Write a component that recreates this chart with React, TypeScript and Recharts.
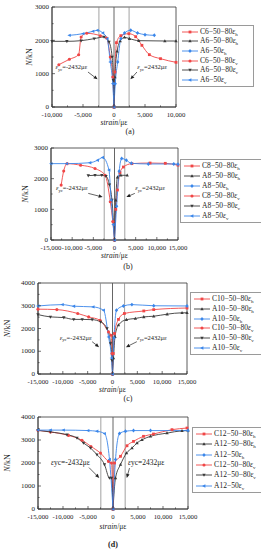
import React from 'react';
import { LineChart, Line, XAxis, YAxis, ReferenceLine, ReferenceArea } from 'recharts';

const FONT = '"Liberation Serif", "Times New Roman", serif';
const RED = '#f04646';
const BLACK = '#3a3a3a';
const BLUE = '#3a86ea';
const AXIS = '#333';

type Pt = { x: number; y: number };

// ---- panel (a) ----
const aC6h: Pt[] = [{ x: 0, y: 0 }, { x: 150, y: 1050 }, { x: 400, y: 1930 }, { x: 1100, y: 2140 }, { x: 2400, y: 2200 }, { x: 3500, y: 2110 }, { x: 4500, y: 1850 }, { x: 5700, y: 1570 }, { x: 7500, y: 1450 }, { x: 10000, y: 1340 }];
const aA6h80: Pt[] = [{ x: 0, y: 0 }, { x: 150, y: 900 }, { x: 500, y: 1670 }, { x: 1000, y: 1980 }, { x: 1700, y: 2090 }, { x: 2500, y: 2050 }, { x: 4000, y: 1990 }, { x: 8200, y: 1980 }, { x: 10000, y: 1980 }];
const aA6h50: Pt[] = [{ x: 0, y: 0 }, { x: 200, y: 700 }, { x: 600, y: 1350 }, { x: 1100, y: 2050 }, { x: 1700, y: 2220 }, { x: 2700, y: 2300 }, { x: 3800, y: 2220 }, { x: 5000, y: 2170 }, { x: 6500, y: 2150 }];
const aC6v: Pt[] = [{ x: -8900, y: 1270 }, { x: -7200, y: 1430 }, { x: -5700, y: 1570 }, { x: -5300, y: 2100 }, { x: -4400, y: 2210 }, { x: -2200, y: 2140 }, { x: -1200, y: 2070 }, { x: -600, y: 1500 }, { x: -200, y: 900 }, { x: 0, y: 0 }];
const aA6v80: Pt[] = [{ x: -10000, y: 1970 }, { x: -7600, y: 1970 }, { x: -5300, y: 1990 }, { x: -3200, y: 2050 }, { x: -1600, y: 2100 }, { x: -800, y: 1950 }, { x: -300, y: 1500 }, { x: -100, y: 800 }, { x: 0, y: 0 }];
const aA6v50: Pt[] = [{ x: -7200, y: 2150 }, { x: -5000, y: 2200 }, { x: -3400, y: 2270 }, { x: -2700, y: 2300 }, { x: -1800, y: 2220 }, { x: -1100, y: 2050 }, { x: -600, y: 1350 }, { x: -200, y: 700 }, { x: 0, y: 0 }];

// ---- panel (b) ----
const bC8h: Pt[] = [{ x: 0, y: 0 }, { x: 300, y: 1000 }, { x: 700, y: 1630 }, { x: 1300, y: 2200 }, { x: 2100, y: 2380 }, { x: 4100, y: 2490 }, { x: 8400, y: 2510 }, { x: 12000, y: 2500 }, { x: 15000, y: 2440 }];
const bA8h80: Pt[] = [{ x: 0, y: 0 }, { x: 300, y: 1300 }, { x: 700, y: 2050 }, { x: 1500, y: 2110 }, { x: 3000, y: 2110 }];
const bA8h50: Pt[] = [{ x: 0, y: 0 }, { x: 500, y: 1100 }, { x: 1100, y: 2240 }, { x: 1700, y: 2660 }, { x: 2800, y: 2600 }, { x: 4000, y: 2500 }, { x: 8000, y: 2480 }, { x: 14000, y: 2480 }, { x: 15000, y: 2470 }];
const bC8v: Pt[] = [{ x: -12600, y: 1790 }, { x: -12000, y: 2250 }, { x: -11200, y: 2490 }, { x: -8000, y: 2440 }, { x: -4600, y: 2330 }, { x: -2200, y: 2110 }, { x: -1000, y: 1250 }, { x: -400, y: 600 }, { x: 0, y: 0 }];
const bA8v80: Pt[] = [{ x: -6200, y: 2100 }, { x: -4600, y: 2110 }, { x: -3000, y: 2110 }, { x: -2000, y: 2080 }, { x: -1200, y: 1800 }, { x: -600, y: 1300 }, { x: 0, y: 0 }];
const bA8v50: Pt[] = [{ x: -15000, y: 2490 }, { x: -11300, y: 2490 }, { x: -5800, y: 2520 }, { x: -4000, y: 2600 }, { x: -2800, y: 2690 }, { x: -1300, y: 2280 }, { x: -800, y: 1300 }, { x: -300, y: 500 }, { x: 0, y: 0 }];

// ---- panel (c) ----
const cC10h: Pt[] = [{ x: 0, y: 0 }, { x: 150, y: 900 }, { x: 400, y: 1780 }, { x: 1200, y: 2400 }, { x: 2400, y: 2660 }, { x: 6300, y: 2770 }, { x: 8300, y: 2830 }, { x: 15000, y: 2900 }];
const cA10h80: Pt[] = [{ x: 0, y: 0 }, { x: 200, y: 700 }, { x: 500, y: 1640 }, { x: 1200, y: 2150 }, { x: 2800, y: 2390 }, { x: 4600, y: 2440 }, { x: 6300, y: 2510 }, { x: 8300, y: 2540 }, { x: 11000, y: 2630 }, { x: 14000, y: 2690 }, { x: 15000, y: 2690 }];
const cA10h50: Pt[] = [{ x: 0, y: 0 }, { x: 300, y: 1580 }, { x: 800, y: 2800 }, { x: 2200, y: 2990 }, { x: 3900, y: 3050 }, { x: 8300, y: 3000 }, { x: 15000, y: 2990 }];
const cC10v: Pt[] = [{ x: -15000, y: 2850 }, { x: -11200, y: 2830 }, { x: -7000, y: 2660 }, { x: -4800, y: 2510 }, { x: -2500, y: 2360 }, { x: -800, y: 1850 }, { x: -300, y: 1700 }, { x: -100, y: 900 }, { x: 0, y: 0 }];
const cA10v80: Pt[] = [{ x: -15000, y: 2610 }, { x: -12500, y: 2510 }, { x: -9800, y: 2480 }, { x: -7800, y: 2400 }, { x: -6100, y: 2400 }, { x: -4100, y: 2390 }, { x: -2400, y: 2290 }, { x: -1100, y: 2000 }, { x: -400, y: 1340 }, { x: -100, y: 600 }, { x: 0, y: 0 }];
const cA10v50: Pt[] = [{ x: -15000, y: 2990 }, { x: -10100, y: 3050 }, { x: -7800, y: 2980 }, { x: -3900, y: 2950 }, { x: -1800, y: 2800 }, { x: -800, y: 1630 }, { x: -200, y: 700 }, { x: 0, y: 0 }];

// ---- panel (d) ----
const dC12h: Pt[] = [{ x: 0, y: 0 }, { x: 300, y: 2000 }, { x: 1500, y: 2290 }, { x: 2800, y: 2750 }, { x: 4100, y: 2940 }, { x: 6100, y: 3160 }, { x: 8100, y: 3260 }, { x: 11800, y: 3450 }, { x: 14800, y: 3520 }];
const dA12h80: Pt[] = [{ x: 0, y: 0 }, { x: 500, y: 1350 }, { x: 1500, y: 1930 }, { x: 2700, y: 2430 }, { x: 3800, y: 2650 }, { x: 4800, y: 2870 }, { x: 5800, y: 3010 }, { x: 7500, y: 3160 }, { x: 10800, y: 3300 }, { x: 13800, y: 3400 }, { x: 15000, y: 3410 }];
const dA12h50: Pt[] = [{ x: 0, y: 0 }, { x: 500, y: 2150 }, { x: 1300, y: 3280 }, { x: 2500, y: 3380 }, { x: 4100, y: 3410 }, { x: 7500, y: 3410 }, { x: 15000, y: 3410 }];
const dC12v: Pt[] = [{ x: -15000, y: 3420 }, { x: -12500, y: 3350 }, { x: -8900, y: 3200 }, { x: -6200, y: 2990 }, { x: -4400, y: 2720 }, { x: -2500, y: 2430 }, { x: -900, y: 2070 }, { x: -300, y: 2000 }, { x: 0, y: 0 }];
const dA12v80: Pt[] = [{ x: -15000, y: 3420 }, { x: -12500, y: 3350 }, { x: -9200, y: 3230 }, { x: -7200, y: 3090 }, { x: -5900, y: 2870 }, { x: -4500, y: 2650 }, { x: -3200, y: 2360 }, { x: -1700, y: 1930 }, { x: -700, y: 1350 }, { x: -300, y: 1350 }, { x: 0, y: 0 }];
const dA12v50: Pt[] = [{ x: -15000, y: 3430 }, { x: -12500, y: 3430 }, { x: -9900, y: 3430 }, { x: -5000, y: 3410 }, { x: -3200, y: 3380 }, { x: -1700, y: 3280 }, { x: -700, y: 2150 }, { x: 0, y: 0 }];

// axis ticks
const ticks10k = [-10000, -7500, -5000, -2500, 0, 2500, 5000, 7500, 10000];
const ticks15k = [-15000, -12500, -10000, -7500, -5000, -2500, 0, 2500, 5000, 7500, 10000, 12500, 15000];
const ticks3k = [0, 500, 1000, 1500, 2000, 2500, 3000];
const ticks4k = [0, 500, 1000, 1500, 2000, 2500, 3000, 3500, 4000];
const yieldStrain = 2432;

type Shape = 'square' | 'up' | 'diamond' | 'circle' | 'down' | 'left';
type Series = { name: string; sub: string; color: string; shape: Shape; data: Pt[] };

const mk = (spec: string, data: Pt[][]): Series[] => {
  const names = [`C${spec}−50−80`, `A${spec}−50−80`, `A${spec}−50`];
  const colors = [RED, BLACK, BLUE];
  const shapesH: Shape[] = ['square', 'up', 'diamond'];
  const shapesV: Shape[] = ['circle', 'down', 'left'];
  return [
    ...names.map((n, i) => ({ name: n, sub: 'h', color: colors[i], shape: shapesH[i], data: data[i] })),
    ...names.map((n, i) => ({ name: n, sub: 'v', color: colors[i], shape: shapesV[i], data: data[i + 3] })),
  ];
};

function Marker({ shape, cx, cy, color, r = 1.4 }: { shape: Shape; cx: number; cy: number; color: string; r?: number }) {
  switch (shape) {
    case 'square':
      return <rect x={cx - r} y={cy - r} width={2 * r} height={2 * r} fill={color} />;
    case 'circle':
      return <circle cx={cx} cy={cy} r={r * 1.1} fill={color} />;
    case 'up':
      return <polygon points={`${cx},${cy - r * 1.3} ${cx - r * 1.2},${cy + r * 0.9} ${cx + r * 1.2},${cy + r * 0.9}`} fill={color} />;
    case 'down':
      return <polygon points={`${cx},${cy + r * 1.3} ${cx - r * 1.2},${cy - r * 0.9} ${cx + r * 1.2},${cy - r * 0.9}`} fill={color} />;
    case 'diamond':
      return <polygon points={`${cx},${cy - r * 1.4} ${cx + r * 1.2},${cy} ${cx},${cy + r * 1.4} ${cx - r * 1.2},${cy}`} fill={color} />;
    default:
      return <polygon points={`${cx - r * 1.4},${cy} ${cx + r},${cy - r * 1.2} ${cx + r},${cy + r * 1.2}`} fill={color} />;
  }
}

type Note = { text: string; anchor: 'start' | 'end'; tx: number; ty: number; from: Pt; to: Pt };

type Panel = {
  top: number;
  height: number;
  plot: { l: number; r: number; t: number; b: number };
  xMax: number;
  xTicks: number[];
  yMax: number;
  yTicks: number[];
  series: Series[];
  legend: { l: number; t: number; w: number; h: number };
  caption: string;
  capX: number;
  capY: number;
  capBold?: boolean;
  yLabelX: number;
  xLabelY: number;
  subNote: boolean;
  notes: Note[];
};

const panels: Panel[] = [
  {
    top: 0, height: 135, plot: { l: 52, r: 176, t: 7, b: 107 },
    xMax: 10000, xTicks: ticks10k, yMax: 3000, yTicks: ticks3k,
    series: mk('6', [aC6h, aA6h80, aA6h50, aC6v, aA6v80, aA6v50]),
    legend: { l: 178, t: 25, w: 76, h: 62 },
    caption: '(a)', capX: 130, capY: 132.5, yLabelX: 32, xLabelY: 125, subNote: true,
    notes: [
      { text: '-2432', anchor: 'end', tx: -4300, ty: 1130, from: { x: -4200, y: 1050 }, to: { x: -2650, y: 830 } },
      { text: '2432', anchor: 'start', tx: 3750, ty: 1130, from: { x: 3700, y: 1050 }, to: { x: 2650, y: 830 } },
    ],
  },
  {
    top: 135, height: 135, plot: { l: 51, r: 178, t: 13, b: 105 },
    xMax: 15000, xTicks: ticks15k, yMax: 3000, yTicks: ticks3k,
    series: mk('8', [bC8h, bA8h80, bA8h50, bC8v, bA8v80, bA8v50]),
    legend: { l: 180, t: 24, w: 82, h: 64 },
    caption: '(b)', capX: 128, capY: 132.5, yLabelX: 28, xLabelY: 123, subNote: true,
    notes: [
      { text: '-2432', anchor: 'end', tx: -6300, ty: 1620, from: { x: -6200, y: 1520 }, to: { x: -2800, y: 1400 } },
      { text: '2432', anchor: 'start', tx: 4900, ty: 1620, from: { x: 4800, y: 1520 }, to: { x: 2800, y: 1400 } },
    ],
  },
  {
    top: 270, height: 140, plot: { l: 38, r: 187, t: 13, b: 104 },
    xMax: 15000, xTicks: ticks15k, yMax: 4000, yTicks: ticks4k,
    series: mk('10', [cC10h, cA10h80, cA10h50, cC10v, cA10v80, cA10v50]),
    legend: { l: 190, t: 22, w: 72, h: 63 },
    caption: '(c)', capX: 128, capY: 129.5, yLabelX: 10, xLabelY: 122, subNote: true,
    notes: [
      { text: '-2432', anchor: 'end', tx: -4200, ty: 1500, from: { x: -4100, y: 1420 }, to: { x: -2700, y: 1180 } },
      { text: '2432', anchor: 'start', tx: 4950, ty: 1500, from: { x: 4900, y: 1420 }, to: { x: 2700, y: 1180 } },
    ],
  },
  {
    top: 410, height: 140, plot: { l: 38, r: 188, t: 7, b: 99 },
    xMax: 15000, xTicks: ticks15k, yMax: 4000, yTicks: ticks4k,
    series: mk('12', [dC12h, dA12h80, dA12h50, dC12v, dA12v80, dA12v50]),
    legend: { l: 192, t: 17, w: 70, h: 66 },
    caption: '(d)', capX: 113, capY: 136, capBold: true, yLabelX: 10, xLabelY: 118.5, subNote: false,
    notes: [
      { text: '-2432', anchor: 'end', tx: -4600, ty: 1900, from: { x: -4800, y: 1800 }, to: { x: -2750, y: 1350 } },
      { text: '2432', anchor: 'start', tx: 3000, ty: 1900, from: { x: 3300, y: 1780 }, to: { x: 2750, y: 1350 } },
    ],
  },
];

const XTick = (props: any) => {
  const { x, y, payload } = props;
  const v = payload.value as number;
  const major = v % 5000 === 0;
  return (
    <g>
      <line x1={x} x2={x} y1={y} y2={y - (major ? 3 : 1.6)} stroke={AXIS} strokeWidth={0.7} />
      {major && (
        <text x={x} y={y + 9.5} textAnchor="middle" fontSize={6.8} fontFamily={FONT} fill="#222">
          {v.toLocaleString('en-US')}
        </text>
      )}
    </g>
  );
};

const YTick = (props: any) => {
  const { x, y, payload } = props;
  const v = payload.value as number;
  const major = v % 1000 === 0;
  return (
    <g>
      <line x1={x} x2={x + (major ? 3 : 1.6)} y1={y} y2={y} stroke={AXIS} strokeWidth={0.7} />
      {major && (
        <text x={x - 3} y={y + 2.2} textAnchor="end" fontSize={7} fontFamily={FONT} fill="#222">
          {v}
        </text>
      )}
    </g>
  );
};

function arrowShape() {
  return (props: any) => {
    const { x1, y1, x2, y2 } = props;
    const ang = Math.atan2(y2 - y1, x2 - x1);
    const L = 4, W = 1.8;
    const bx = x2 - L * Math.cos(ang), by = y2 - L * Math.sin(ang);
    const px = -Math.sin(ang) * W, py = Math.cos(ang) * W;
    return (
      <g>
        <line x1={x1} y1={y1} x2={bx} y2={by} stroke="#222" strokeWidth={0.7} />
        <polygon points={`${x2},${y2} ${bx + px},${by + py} ${bx - px},${by - py}`} fill="#222" />
      </g>
    );
  };
}

function PanelChart({ p }: { p: Panel }) {
  const pw = p.plot.r - p.plot.l;
  const ph = p.plot.b - p.plot.t;
  const sx = (v: number) => p.plot.l + ((v + p.xMax) / (2 * p.xMax)) * pw;
  const sy = (v: number) => p.plot.b - (v / p.yMax) * ph;
  return (
    <div style={{ position: 'absolute', left: 0, top: p.top, width: 261, height: p.height }}>
      <LineChart
        width={261}
        height={p.height}
        margin={{ top: p.plot.t, right: 261 - p.plot.r, bottom: 0, left: 0 }}
      >
        <XAxis
          type="number"
          dataKey="x"
          domain={[-p.xMax, p.xMax]}
          ticks={p.xTicks}
          interval={0}
          tick={<XTick />}
          tickLine={false}
          tickSize={0}
          tickMargin={0}
          height={p.height - p.plot.b}
          stroke={AXIS}
          strokeWidth={0.8}
          label={() => (
            <text x={(p.plot.l + p.plot.r) / 2} y={p.xLabelY} textAnchor="middle" fontSize={7.5} fontFamily={FONT} fill="#222">
              <tspan fontStyle="italic">strain</tspan>/με
            </text>
          )}
        />
        <YAxis
          type="number"
          domain={[0, p.yMax]}
          ticks={p.yTicks}
          interval={0}
          tick={<YTick />}
          tickLine={false}
          tickSize={0}
          tickMargin={0}
          width={p.plot.l}
          stroke={AXIS}
          strokeWidth={0.8}
          label={() => (
            <text
              transform={`translate(${p.yLabelX},${(p.plot.t + p.plot.b) / 2}) rotate(-90)`}
              textAnchor="middle"
              fontSize={8}
              fontFamily={FONT}
              fill="#222"
            >
              <tspan fontStyle="italic">N</tspan>/kN
            </text>
          )}
        />
        <ReferenceArea x1={-p.xMax} x2={p.xMax} y1={0} y2={p.yMax} fill="none" stroke={AXIS} strokeWidth={0.8} />
        <ReferenceLine x={-yieldStrain} stroke="#8a8a8a" strokeWidth={0.8} />
        <ReferenceLine x={yieldStrain} stroke="#8a8a8a" strokeWidth={0.8} />
        <ReferenceLine x={0} stroke="#555" strokeWidth={0.9} />
        {p.notes.map((n, i) => (
          <ReferenceLine key={`n${i}`} segment={[n.from, n.to]} shape={arrowShape()} />
        ))}
        {p.series.map((s, i) => (
          <Line
            key={i}
            data={s.data}
            dataKey="y"
            type="monotone"
            stroke={s.color}
            strokeWidth={0.9}
            isAnimationActive={false}
            dot={(d: any) => <Marker key={`${i}-${d.index}`} shape={s.shape} cx={d.cx} cy={d.cy} color={s.color} />}
            activeDot={false}
          />
        ))}
      </LineChart>
      <svg style={{ position: 'absolute', left: 0, top: 0, pointerEvents: 'none' }} width={261} height={p.height}>
        {p.notes.map((n, i) => (
          <text key={i} x={sx(n.tx)} y={sy(n.ty)} textAnchor={n.anchor} fontSize={p.subNote ? 6.5 : 7.5} fontFamily={FONT} fill="#222">
            <tspan fontStyle="italic">ε</tspan>
            {p.subNote ? (
              <>
                <tspan fontSize={4.5} dy={1.5}>yc</tspan>
                <tspan dy={-1.5}>={n.text}με</tspan>
              </>
            ) : (
              <tspan>yc={n.text}με</tspan>
            )}
          </text>
        ))}
      </svg>
      <div
        style={{
          position: 'absolute',
          left: p.legend.l,
          top: p.legend.t,
          width: p.legend.w,
          height: p.legend.h,
          border: '1px solid #9a9a9a',
          boxSizing: 'border-box',
          background: '#fff',
          padding: '1px 0 1px 2px',
          fontFamily: FONT,
          fontSize: 7.5,
          color: '#222',
        }}
      >
        {p.series.map((s, i) => (
          <div key={i} style={{ display: 'flex', alignItems: 'center', height: (p.legend.h - 4) / 6, whiteSpace: 'nowrap' }}>
            <svg width={18} height={8} style={{ flex: 'none' }}>
              <line x1={1} x2={17} y1={4} y2={4} stroke={s.color} strokeWidth={0.9} />
              <Marker shape={s.shape} cx={9} cy={4} color={s.color} r={1.4} />
            </svg>
            <span style={{ marginLeft: 1 }}>
              {s.name}
              <span style={{ fontStyle: 'italic' }}>ε</span>
              <span style={{ fontSize: 5, verticalAlign: -2 }}>{s.sub}</span>
            </span>
          </div>
        ))}
      </div>
      <div
        style={{
          position: 'absolute',
          left: p.capX - 15,
          width: 30,
          top: p.capY - 6,
          textAlign: 'center',
          fontFamily: FONT,
          fontSize: 8,
          fontWeight: p.capBold ? 'bold' : 'normal',
          color: '#222',
          lineHeight: '9px',
        }}
      >
        {p.caption}
      </div>
    </div>
  );
}

export default function App() {
  return (
    <div style={{ position: 'absolute', left: 0, top: 0, width: 261, height: 550, background: '#fff', overflow: 'hidden' }}>
      {panels.map((p, i) => (
        <PanelChart key={i} p={p} />
      ))}
    </div>
  );
}
